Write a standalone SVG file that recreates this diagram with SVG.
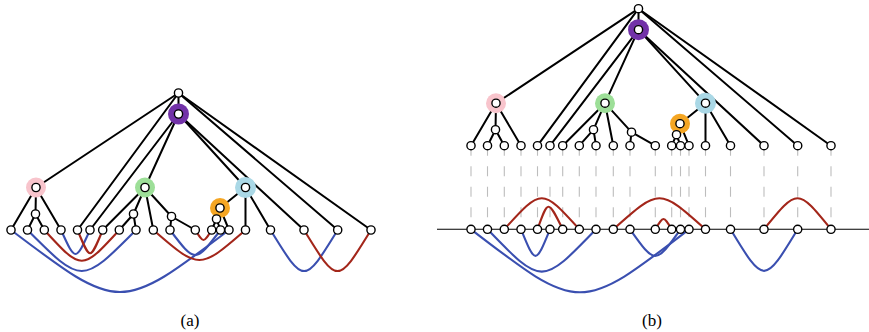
<svg xmlns="http://www.w3.org/2000/svg" width="869" height="332" viewBox="0 0 869 332">
<style>
.e{stroke:#000;stroke-width:2;fill:none;stroke-linecap:round}
.n{fill:#fff;stroke:#000;stroke-width:1.4}
.rd{stroke:#a3261a;stroke-width:2.1;fill:none}
.bl{stroke:#3a4fb0;stroke-width:2.1;fill:none}
.ds{stroke:#bdbdbd;stroke-width:1.1;stroke-dasharray:10 10.5}
.ax{stroke:#000;stroke-width:1.1}
.lbl{font-family:"Liberation Serif",serif;font-size:17px;fill:#000;text-anchor:middle}
</style>
<defs>
<g id="edges">
<line class="e" x1="178.5" y1="93" x2="178.5" y2="114"/>
<line class="e" x1="178.5" y1="93" x2="36" y2="187.5"/>
<line class="e" x1="178.5" y1="93" x2="77.5" y2="230"/>
<line class="e" x1="178.5" y1="93" x2="337.7" y2="230"/>
<line class="e" x1="178.5" y1="93" x2="371" y2="230"/>
<line class="e" x1="178.5" y1="114" x2="90" y2="230"/>
<line class="e" x1="178.5" y1="114" x2="145" y2="187.5"/>
<line class="e" x1="178.5" y1="114" x2="245.5" y2="187.5"/>
<line class="e" x1="178.5" y1="114" x2="304" y2="230"/>
<line class="e" x1="36" y1="187.5" x2="11" y2="230"/>
<line class="e" x1="36" y1="187.5" x2="35.5" y2="214"/>
<line class="e" x1="36" y1="187.5" x2="61" y2="230"/>
<line class="e" x1="35.5" y1="214" x2="27.5" y2="230"/>
<line class="e" x1="35.5" y1="214" x2="44.3" y2="230"/>
<line class="e" x1="145" y1="187.5" x2="102.7" y2="230"/>
<line class="e" x1="145" y1="187.5" x2="133.5" y2="214"/>
<line class="e" x1="145" y1="187.5" x2="153.3" y2="230"/>
<line class="e" x1="145" y1="187.5" x2="171.5" y2="216.5"/>
<line class="e" x1="133.5" y1="214" x2="119.3" y2="230"/>
<line class="e" x1="133.5" y1="214" x2="136" y2="230"/>
<line class="e" x1="171.5" y1="216.5" x2="170" y2="230"/>
<line class="e" x1="171.5" y1="216.5" x2="195.3" y2="230"/>
<line class="e" x1="245.5" y1="187.5" x2="220" y2="208"/>
<line class="e" x1="245.5" y1="187.5" x2="245.5" y2="230"/>
<line class="e" x1="245.5" y1="187.5" x2="270.5" y2="230"/>
<line class="e" x1="220" y1="208" x2="216.5" y2="219"/>
<line class="e" x1="220" y1="208" x2="229" y2="230"/>
<line class="e" x1="216.5" y1="219" x2="211.7" y2="230"/>
<line class="e" x1="216.5" y1="219" x2="220.5" y2="230"/>
</g>
</defs>

<!-- Panel (a) -->
<g id="panel-a">
<g id="a-connectors">
<use href="#edges"/>
<path class="bl" d="M11,230 C120,312.7 120,312.7 229,230"/>
<path class="bl" d="M27.5,230 C81.75,284.7 81.75,284.7 136,230"/>
<path class="bl" d="M61,230 C75.5,262 75.5,262 90,230"/>
<path class="bl" d="M170,230 C195.25,263.3 195.25,263.3 220.5,230"/>
<path class="bl" d="M270.5,230 C304.1,284.7 304.1,284.7 337.7,230"/>
<path class="rd" d="M44.3,230 C81.8,271 81.8,271 119.3,230"/>
<path class="rd" d="M77.5,230 C90.1,261 90.1,261 102.7,230"/>
<path class="rd" d="M153.3,230 C199.4,270 199.4,270 245.5,230"/>
<path class="rd" d="M195.3,230 C203.5,243.3 203.5,243.3 211.7,230"/>
<path class="rd" d="M304,230 C337.5,284.7 337.5,284.7 371,230"/>
</g>
<g id="a-root"><circle class="n" cx="178.5" cy="93" r="4.1"/></g>
<g id="a-purple"><circle cx="178.5" cy="114" r="10.5" fill="#7232a8"/><circle class="n" cx="178.5" cy="114" r="4.1"/></g>
<g id="a-pink"><circle cx="36" cy="187.5" r="10" fill="#f8c4cc"/><circle class="n" cx="36" cy="187.5" r="4.1"/></g>
<g id="a-pink-child"><circle class="n" cx="35.5" cy="214" r="4.1"/></g>
<g id="a-green"><circle cx="145" cy="187.5" r="10" fill="#9ddf98"/><circle class="n" cx="145" cy="187.5" r="4.1"/></g>
<g id="a-green-child1"><circle class="n" cx="133.5" cy="214" r="4.1"/></g>
<g id="a-green-child2"><circle class="n" cx="171.5" cy="216.5" r="4.1"/></g>
<g id="a-blue"><circle cx="245.5" cy="187.5" r="10.5" fill="#aad8e6"/><circle class="n" cx="245.5" cy="187.5" r="4.1"/></g>
<g id="a-orange"><circle cx="220" cy="208" r="10" fill="#f5a623"/><circle class="n" cx="220" cy="208" r="4.1"/></g>
<g id="a-orange-child"><circle class="n" cx="216.5" cy="219" r="4.1"/></g>
<g id="a-leaves">
<circle id="a-l1" class="n" cx="11" cy="230" r="4.1"/>
<circle id="a-l2" class="n" cx="27.5" cy="230" r="4.1"/>
<circle id="a-l3" class="n" cx="44.3" cy="230" r="4.1"/>
<circle id="a-l4" class="n" cx="61" cy="230" r="4.1"/>
<circle id="a-l5" class="n" cx="77.5" cy="230" r="4.1"/>
<circle id="a-l6" class="n" cx="90" cy="230" r="4.1"/>
<circle id="a-l7" class="n" cx="102.7" cy="230" r="4.1"/>
<circle id="a-l8" class="n" cx="119.3" cy="230" r="4.1"/>
<circle id="a-l9" class="n" cx="136" cy="230" r="4.1"/>
<circle id="a-l10" class="n" cx="153.3" cy="230" r="4.1"/>
<circle id="a-l11" class="n" cx="170" cy="230" r="4.1"/>
<circle id="a-l12" class="n" cx="195.3" cy="230" r="4.1"/>
<circle id="a-l13" class="n" cx="211.7" cy="230" r="4.1"/>
<circle id="a-l14" class="n" cx="220.5" cy="230" r="4.1"/>
<circle id="a-l15" class="n" cx="229" cy="230" r="4.1"/>
<circle id="a-l16" class="n" cx="245.5" cy="230" r="4.1"/>
<circle id="a-l17" class="n" cx="270.5" cy="230" r="4.1"/>
<circle id="a-l18" class="n" cx="304" cy="230" r="4.1"/>
<circle id="a-l19" class="n" cx="337.7" cy="230" r="4.1"/>
<circle id="a-l20" class="n" cx="371" cy="230" r="4.1"/>
</g>
<text class="lbl" x="190" y="326">(a)</text>
</g>

<!-- Panel (b) -->
<g id="panel-b" transform="translate(460,-84.3)">
<g id="b-connectors">
<line class="ax" x1="-23" y1="313.6" x2="409" y2="313.6"/>
<g id="b-dashes">
<line class="ds" x1="11" y1="230" x2="11" y2="313.6"/>
<line class="ds" x1="27.5" y1="230" x2="27.5" y2="313.6"/>
<line class="ds" x1="44.3" y1="230" x2="44.3" y2="313.6"/>
<line class="ds" x1="61" y1="230" x2="61" y2="313.6"/>
<line class="ds" x1="77.5" y1="230" x2="77.5" y2="313.6"/>
<line class="ds" x1="90" y1="230" x2="90" y2="313.6"/>
<line class="ds" x1="102.7" y1="230" x2="102.7" y2="313.6"/>
<line class="ds" x1="119.3" y1="230" x2="119.3" y2="313.6"/>
<line class="ds" x1="136" y1="230" x2="136" y2="313.6"/>
<line class="ds" x1="153.3" y1="230" x2="153.3" y2="313.6"/>
<line class="ds" x1="170" y1="230" x2="170" y2="313.6"/>
<line class="ds" x1="195.3" y1="230" x2="195.3" y2="313.6"/>
<line class="ds" x1="211.7" y1="230" x2="211.7" y2="313.6"/>
<line class="ds" x1="220.5" y1="230" x2="220.5" y2="313.6"/>
<line class="ds" x1="229" y1="230" x2="229" y2="313.6"/>
<line class="ds" x1="245.5" y1="230" x2="245.5" y2="313.6"/>
<line class="ds" x1="270.5" y1="230" x2="270.5" y2="313.6"/>
<line class="ds" x1="304" y1="230" x2="304" y2="313.6"/>
<line class="ds" x1="337.7" y1="230" x2="337.7" y2="313.6"/>
<line class="ds" x1="371" y1="230" x2="371" y2="313.6"/>
</g>
<use href="#edges"/>
<path class="bl" d="M11,313.6 C120,397.6 120,397.6 229,313.6"/>
<path class="bl" d="M27.5,313.6 C81.75,370 81.75,370 136,313.6"/>
<path class="bl" d="M61,313.6 C75.5,349 75.5,349 90,313.6"/>
<path class="bl" d="M170,313.6 C195.25,349 195.25,349 220.5,313.6"/>
<path class="bl" d="M270.5,313.6 C304.1,369 304.1,369 337.7,313.6"/>
<path class="rd" d="M44.3,313.6 C81.8,272.3 81.8,272.3 119.3,313.6"/>
<path class="rd" d="M77.5,313.6 C88,283.5 88,283.5 102.7,313.6"/>
<path class="rd" d="M153.3,313.6 C199.4,272.3 199.4,272.3 245.5,313.6"/>
<path class="rd" d="M195.3,313.6 C203.5,299.9 203.5,299.9 211.7,313.6"/>
<path class="rd" d="M304,313.6 C337.5,272.3 337.5,272.3 371,313.6"/>
</g>
<g id="b-root"><circle class="n" cx="178.5" cy="93" r="4.1"/></g>
<g id="b-purple"><circle cx="178.5" cy="114" r="10.5" fill="#7232a8"/><circle class="n" cx="178.5" cy="114" r="4.1"/></g>
<g id="b-pink"><circle cx="36" cy="187.5" r="10" fill="#f8c4cc"/><circle class="n" cx="36" cy="187.5" r="4.1"/></g>
<g id="b-pink-child"><circle class="n" cx="35.5" cy="214" r="4.1"/></g>
<g id="b-green"><circle cx="145" cy="187.5" r="10" fill="#9ddf98"/><circle class="n" cx="145" cy="187.5" r="4.1"/></g>
<g id="b-green-child1"><circle class="n" cx="133.5" cy="214" r="4.1"/></g>
<g id="b-green-child2"><circle class="n" cx="171.5" cy="216.5" r="4.1"/></g>
<g id="b-blue"><circle cx="245.5" cy="187.5" r="10.5" fill="#aad8e6"/><circle class="n" cx="245.5" cy="187.5" r="4.1"/></g>
<g id="b-orange"><circle cx="220" cy="208" r="10" fill="#f5a623"/><circle class="n" cx="220" cy="208" r="4.1"/></g>
<g id="b-orange-child"><circle class="n" cx="216.5" cy="219" r="4.1"/></g>
<g id="b-leaves">
<circle id="b-l1" class="n" cx="11" cy="230" r="4.1"/>
<circle id="b-l2" class="n" cx="27.5" cy="230" r="4.1"/>
<circle id="b-l3" class="n" cx="44.3" cy="230" r="4.1"/>
<circle id="b-l4" class="n" cx="61" cy="230" r="4.1"/>
<circle id="b-l5" class="n" cx="77.5" cy="230" r="4.1"/>
<circle id="b-l6" class="n" cx="90" cy="230" r="4.1"/>
<circle id="b-l7" class="n" cx="102.7" cy="230" r="4.1"/>
<circle id="b-l8" class="n" cx="119.3" cy="230" r="4.1"/>
<circle id="b-l9" class="n" cx="136" cy="230" r="4.1"/>
<circle id="b-l10" class="n" cx="153.3" cy="230" r="4.1"/>
<circle id="b-l11" class="n" cx="170" cy="230" r="4.1"/>
<circle id="b-l12" class="n" cx="195.3" cy="230" r="4.1"/>
<circle id="b-l13" class="n" cx="211.7" cy="230" r="4.1"/>
<circle id="b-l14" class="n" cx="220.5" cy="230" r="4.1"/>
<circle id="b-l15" class="n" cx="229" cy="230" r="4.1"/>
<circle id="b-l16" class="n" cx="245.5" cy="230" r="4.1"/>
<circle id="b-l17" class="n" cx="270.5" cy="230" r="4.1"/>
<circle id="b-l18" class="n" cx="304" cy="230" r="4.1"/>
<circle id="b-l19" class="n" cx="337.7" cy="230" r="4.1"/>
<circle id="b-l20" class="n" cx="371" cy="230" r="4.1"/>
</g>
<g id="b-line-nodes">
<circle id="b-m1" class="n" cx="11" cy="313.6" r="4.1"/>
<circle id="b-m2" class="n" cx="27.5" cy="313.6" r="4.1"/>
<circle id="b-m3" class="n" cx="44.3" cy="313.6" r="4.1"/>
<circle id="b-m4" class="n" cx="61" cy="313.6" r="4.1"/>
<circle id="b-m5" class="n" cx="77.5" cy="313.6" r="4.1"/>
<circle id="b-m6" class="n" cx="90" cy="313.6" r="4.1"/>
<circle id="b-m7" class="n" cx="102.7" cy="313.6" r="4.1"/>
<circle id="b-m8" class="n" cx="119.3" cy="313.6" r="4.1"/>
<circle id="b-m9" class="n" cx="136" cy="313.6" r="4.1"/>
<circle id="b-m10" class="n" cx="153.3" cy="313.6" r="4.1"/>
<circle id="b-m11" class="n" cx="170" cy="313.6" r="4.1"/>
<circle id="b-m12" class="n" cx="195.3" cy="313.6" r="4.1"/>
<circle id="b-m13" class="n" cx="211.7" cy="313.6" r="4.1"/>
<circle id="b-m14" class="n" cx="220.5" cy="313.6" r="4.1"/>
<circle id="b-m15" class="n" cx="229" cy="313.6" r="4.1"/>
<circle id="b-m16" class="n" cx="245.5" cy="313.6" r="4.1"/>
<circle id="b-m17" class="n" cx="270.5" cy="313.6" r="4.1"/>
<circle id="b-m18" class="n" cx="304" cy="313.6" r="4.1"/>
<circle id="b-m19" class="n" cx="337.7" cy="313.6" r="4.1"/>
<circle id="b-m20" class="n" cx="371" cy="313.6" r="4.1"/>
</g>
</g>
<text class="lbl" x="652" y="326">(b)</text>
</svg>
